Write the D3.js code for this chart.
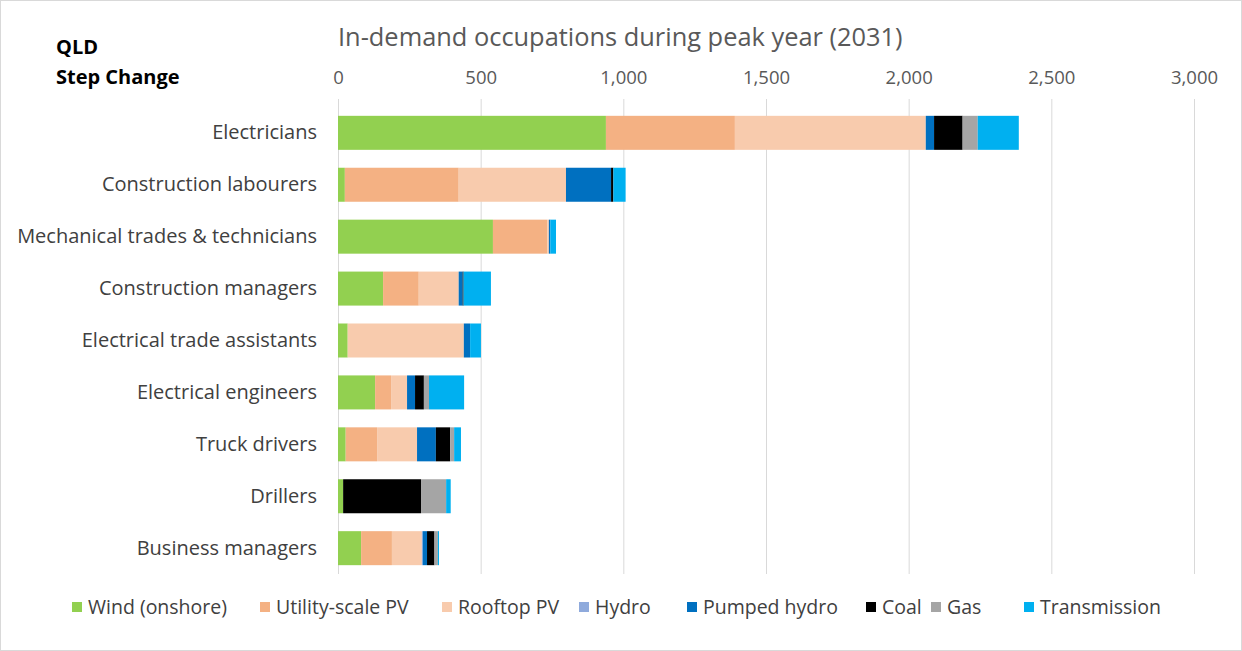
<!DOCTYPE html>
<html lang="en">
<head>
<meta charset="utf-8">
<title>In-demand occupations</title>
<script src="https://cdnjs.cloudflare.com/ajax/libs/d3/7.8.5/d3.min.js"></script>
<style>
    body { margin: 0; background: #fff; }
    svg text { font-family: "Open Sans", "Noto Sans", sans-serif; }
    .grid line { stroke: #d9d9d9; }
    .grid path { display: none; }
    .xaxis text { fill: #595959; font-size: 18.5px; }
    .xaxis path, .xaxis line { display: none; }
    .yaxis text { fill: #404040; font-size: 20px; }
    .yaxis path, .yaxis line { display: none; }
</style>
</head>
<body>
<svg id="chart"></svg>
<script>
    // data
    const occupations = ["Electricians", "Construction labourers", "Mechanical trades & technicians",
        "Construction managers", "Electrical trade assistants", "Electrical engineers",
        "Truck drivers", "Drillers", "Business managers"];
    const seriesNames = ["Wind (onshore)", "Utility-scale PV", "Rooftop PV", "Hydro",
        "Pumped hydro", "Coal", "Gas", "Transmission"];
    const seriesColors = ["#92D050", "#F4B183", "#F8CBAD", "#8FAADC", "#0070C0", "#000000", "#A5A5A5", "#00B0F0"];

    const wind        = [939, 24, 543, 158, 34, 130, 27, 18, 81];
    const utilityPV   = [452, 399, 191, 125, 0, 56, 110, 0, 108];
    const rooftopPV   = [669, 376, 5, 140, 407, 56, 140, 0, 105];
    const hydro       = [0, 0, 0, 0, 0, 0, 0, 0, 3];
    const pumpedHydro = [29, 158, 5, 14, 22, 28, 66, 0, 15];
    const coal        = [100, 8, 0, 3, 0, 31, 50, 273, 26];
    const gas         = [53, 0, 0, 0, 0, 18, 14, 88, 12];
    const transmission= [144, 43, 20, 96, 38, 123, 24, 16, 4];

    const xTicks = [0, 500, 1000, 1500, 2000, 2500, 3000];

    const W = 1242, H = 651;
    const margin = {top: 107, right: 48, bottom: 77, left: 338};
    const width = W - margin.left - margin.right,
          height = H - margin.top - margin.bottom;

    const svg = d3.select("#chart").attr("width", W).attr("height", H);

    svg.append("rect")
        .attr("x", 0.5).attr("y", 0.5)
        .attr("width", W - 1).attr("height", H - 1)
        .attr("fill", "#fff").attr("stroke", "#d9d9d9");

    const rows = occupations.map((o, i) => ({
        name: o,
        "Wind (onshore)": wind[i],
        "Utility-scale PV": utilityPV[i],
        "Rooftop PV": rooftopPV[i],
        "Hydro": hydro[i],
        "Pumped hydro": pumpedHydro[i],
        "Coal": coal[i],
        "Gas": gas[i],
        "Transmission": transmission[i]
    }));

    const x = d3.scaleLinear().domain([0, 3000]).range([0, width]);
    const y = d3.scaleBand().domain(occupations).range([0, height]).paddingInner(0.345).paddingOuter(0.17);
    const color = d3.scaleOrdinal().domain(seriesNames).range(seriesColors);

    const g = svg.append("g").attr("transform", "translate(" + margin.left + "," + margin.top + ")");

    // gridlines
    g.append("g").attr("class", "grid")
        .attr("transform", "translate(0," + height + ")")
        .call(d3.axisBottom(x).tickValues(xTicks).tickSize(-height - 8).tickFormat(""));

    // top axis labels
    g.append("g").attr("class", "xaxis")
        .attr("transform", "translate(0,-20)")
        .call(d3.axisTop(x).tickValues(xTicks).tickFormat(d3.format(",")).tickSize(0));

    const stack = d3.stack().keys(seriesNames)(rows);

    g.selectAll(".series")
        .data(stack)
        .enter().append("g")
        .attr("class", "series")
        .attr("fill", d => color(d.key))
        .selectAll("rect")
        .data(d => d)
        .enter().append("rect")
        .attr("x", d => x(d[0]))
        .attr("y", d => y(d.data.name))
        .attr("width", d => x(d[1]) - x(d[0]))
        .attr("height", y.bandwidth());

    g.append("g").attr("class", "yaxis")
        .call(d3.axisLeft(y).tickSize(0).tickPadding(21));

    // title
    svg.append("text")
        .attr("x", 338).attr("y", 46)
        .attr("fill", "#595959")
        .style("font-size", "25.4px")
        .text("In-demand occupations during peak year (2031)");

    svg.append("text").attr("x", 56).attr("y", 54)
        .style("font-size", "20px").style("font-weight", "bold").attr("fill", "#000")
        .text("QLD");
    svg.append("text").attr("x", 56).attr("y", 84)
        .style("font-size", "20px").style("font-weight", "bold").attr("fill", "#000")
        .text("Step Change");

    // legend
    const legendX = [72, 260, 442, 579, 687, 866, 931, 1024];
    const legend = svg.append("g").selectAll("g")
        .data(seriesNames)
        .enter().append("g")
        .attr("transform", (d, i) => "translate(" + legendX[i] + ",607)");
    legend.append("rect")
        .attr("x", 0).attr("y", -5)
        .attr("width", 10).attr("height", 10)
        .attr("fill", d => color(d));
    legend.append("text")
        .attr("x", 16).attr("y", 7)
        .attr("fill", "#404040")
        .style("font-size", "19.5px")
        .text(d => d);
</script>
</body>
</html>
